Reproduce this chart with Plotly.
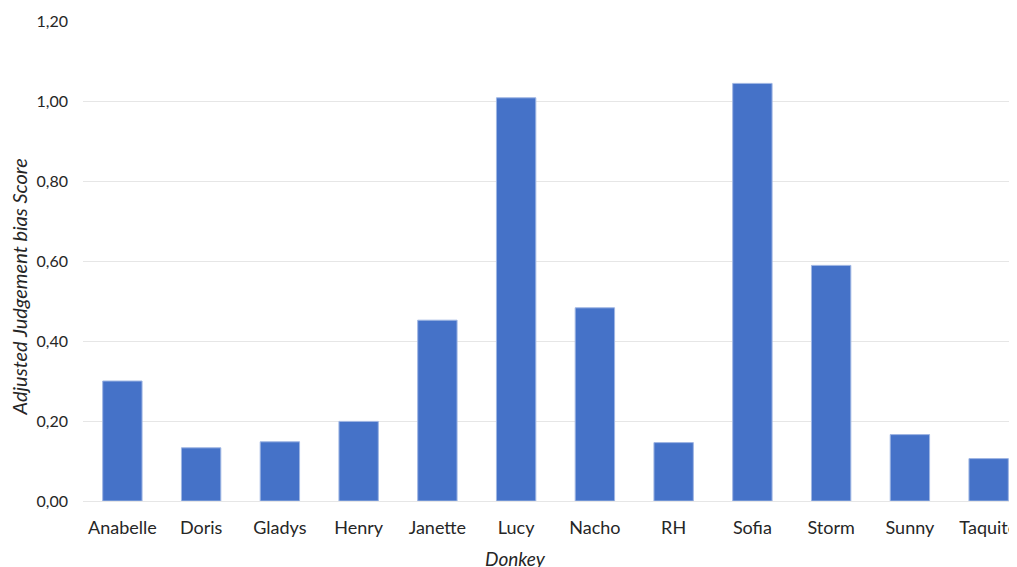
import plotly.graph_objects as go

donkeys = ["Anabelle", "Doris", "Gladys", "Henry", "Janette", "Lucy",
           "Nacho", "RH", "Sofia", "Storm", "Sunny", "Taquito"]
scores = [0.30, 0.133, 0.148, 0.199, 0.452, 1.008,
          0.483, 0.146, 1.044, 0.589, 0.166, 0.106]
y_ticks = [0.0, 0.2, 0.4, 0.6, 0.8, 1.0, 1.2]
x_title = "Donkey"
y_title = "Adjusted Judgement bias Score"

FONT = "Lato"
TXT = "#262626"

fig = go.Figure(go.Bar(
    x=donkeys, y=scores, width=0.5,
    marker=dict(color="#4572C8", line=dict(color="#9FB6E3", width=1)),
))

fig.update_layout(
    width=1009, height=559,
    margin=dict(l=75, r=0, t=13, b=66),
    paper_bgcolor="white", plot_bgcolor="white",
    separators=",.",
    font=dict(family=FONT, size=16, color=TXT),
    showlegend=False,
    xaxis=dict(
        range=[-0.5, 11.36],
        showgrid=False, showline=False, ticks="",
        tickfont=dict(size=18, color=TXT),
        ticklabelstandoff=14,
    ),
    yaxis=dict(
        range=[0, 1.2], tickvals=y_ticks, tickformat=".2f",
        showgrid=True, gridcolor="#E6E6E6", gridwidth=1,
        zeroline=True, zerolinecolor="#E6E6E6", zerolinewidth=1,
        showline=False, ticks="",
        tickfont=dict(size=16, color=TXT),
        ticklabelstandoff=14,
    ),
    annotations=[
        dict(text=f"<i>{x_title}</i>", xref="paper", yref="paper",
             x=0.463, y=-0.119, xanchor="center", yanchor="middle",
             showarrow=False, font=dict(size=19, color=TXT)),
        dict(text=f"<i>{y_title}</i>", xref="paper", yref="paper",
             x=-0.069, y=0.446, xanchor="center", yanchor="middle",
             textangle=-90, showarrow=False, font=dict(size=20, color=TXT)),
    ],
)

fig.write_html("out.html")
